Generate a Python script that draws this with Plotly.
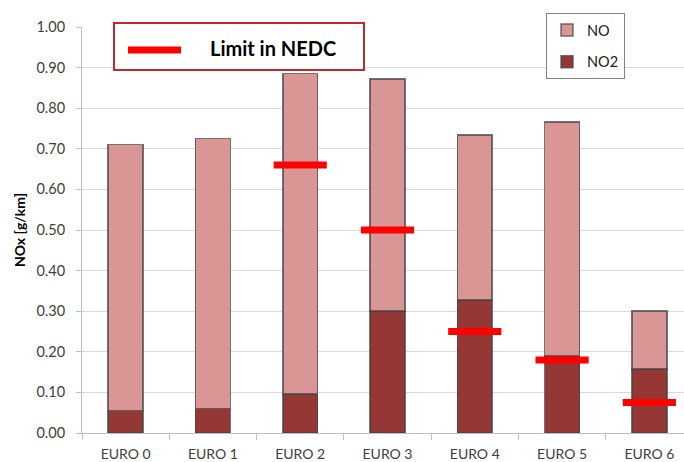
import plotly.graph_objects as go

# NOx emissions per Euro standard, split into NO and NO2 [g/km]
standards = ["EURO 0", "EURO 1", "EURO 2", "EURO 3", "EURO 4", "EURO 5", "EURO 6"]
no2_values = [0.055, 0.06, 0.096, 0.30, 0.328, 0.19, 0.158]
no_values = [0.655, 0.665, 0.789, 0.572, 0.406, 0.576, 0.142]
nedc_limits = [None, None, 0.66, 0.50, 0.25, 0.18, 0.075]
y_ticks = [0.0, 0.1, 0.2, 0.3, 0.4, 0.5, 0.6, 0.7, 0.8, 0.9, 1.0]

FONT = "Lato"
NO_COLOR = "#d99694"
NO2_COLOR = "#953735"
OUTLINE = "rgba(70,70,70,0.75)"

fig = go.Figure()

fig.add_trace(go.Bar(
    x=standards, y=no2_values, name="NO2",
    marker=dict(color=NO2_COLOR, line=dict(color=OUTLINE, width=1.5)),
    width=0.40, legendgroup="no2", legendrank=2,
))
fig.add_trace(go.Bar(
    x=standards, y=no_values, name="NO",
    marker=dict(color=NO_COLOR, line=dict(color=OUTLINE, width=1.5)),
    width=0.40, legendgroup="no", legendrank=1,
))

# NEDC limit drawn as short thick horizontal dashes over each bar
fig.add_trace(go.Scatter(
    x=standards, y=nedc_limits, mode="markers", name="Limit in NEDC",
    marker=dict(symbol="line-ew", size=38,
                line=dict(color="#ff0000", width=7)),
    showlegend=False, cliponaxis=False,
))

# Plot-area geometry (pixels) used to place the limit key in paper units
L, R, T, B = 82, 0, 27, 29
W, H = 684, 462
pw, ph = W - L - R, H - T - B


def px_x(v):
    return (v - L) / pw


def px_y(v):
    return (H - B - v) / ph


fig.add_shape(type="rect", xref="paper", yref="paper",
              x0=px_x(114), x1=px_x(364), y0=px_y(70), y1=px_y(23),
              line=dict(color="#c0282d", width=2), fillcolor="white",
              layer="above")
fig.add_shape(type="line", xref="paper", yref="paper",
              x0=px_x(128), x1=px_x(181), y0=px_y(50), y1=px_y(50),
              line=dict(color="#ff0000", width=7), layer="above")
fig.add_annotation(xref="paper", yref="paper", x=px_x(273), y=px_y(48),
                   xanchor="center", yanchor="middle",
                   text="<b>Limit in NEDC</b>", showarrow=False,
                   font=dict(family=FONT, size=20, color="#000000"))

fig.update_layout(
    width=W, height=H,
    margin=dict(l=L, r=R, t=T, b=B, pad=0),
    barmode="stack",
    plot_bgcolor="white", paper_bgcolor="white",
    font=dict(family=FONT, size=14.5, color="#404040"),
    legend=dict(
        x=px_x(625), xanchor="right", y=px_y(13), yanchor="top",
        bgcolor="white", bordercolor="#808080", borderwidth=1,
        traceorder="grouped", tracegroupgap=10,
        font=dict(family=FONT, size=14.5, color="#202020"),
        itemwidth=30,
    ),
    xaxis=dict(
        type="category",
        range=[-0.5, 6.5 - 9 / 87.3],
        showline=True, linecolor="#bfbfbf", linewidth=1,
        ticks="outside", tickson="boundaries", ticklen=6,
        tickcolor="#bfbfbf", showgrid=False,
        tickfont=dict(family=FONT, size=14, color="#404040"),
        ticklabelstandoff=8,
    ),
    yaxis=dict(
        range=[0, 1.0], tickvals=y_ticks, tickformat=".2f",
        showline=True, linecolor="#bfbfbf", linewidth=1,
        ticks="outside", ticklen=5, tickcolor="#bfbfbf",
        showgrid=True, gridcolor="#d9d9d9", gridwidth=1.3,
        zeroline=False,
        tickfont=dict(family=FONT, size=14.5, color="#404040"),
        ticklabelstandoff=8,
        title=dict(text="<b>NOx [g/km]</b>",
                   font=dict(family=FONT, size=14, color="#000000"),
                   standoff=7),
    ),
)

fig.write_html("out.html")
